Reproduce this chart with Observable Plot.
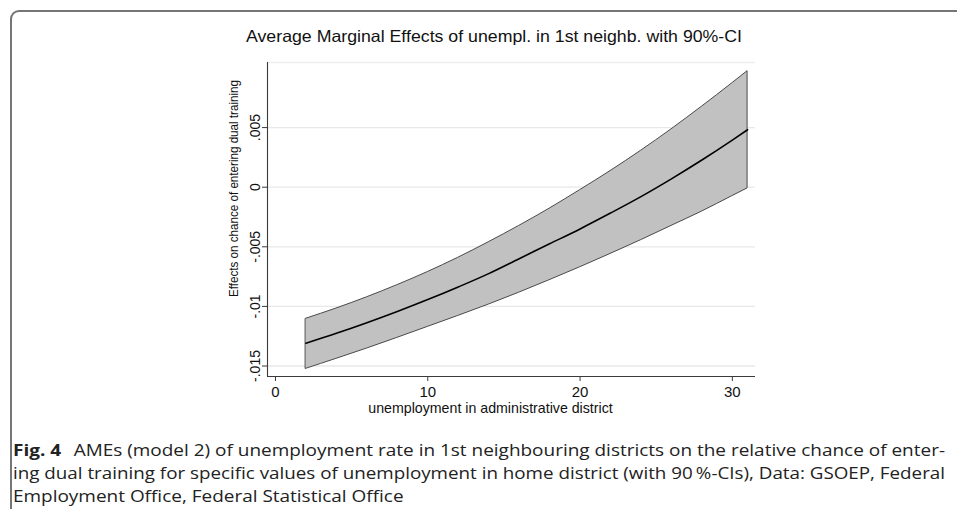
<!DOCTYPE html>
<html><head><meta charset="utf-8">
<script src="https://cdn.jsdelivr.net/npm/d3@7"></script>
<script src="https://cdn.jsdelivr.net/npm/@observablehq/plot@0.6"></script>
<style>
body{margin:0;background:#fff;}
#fig{position:relative;width:957px;height:509px;overflow:hidden;font-family:"Liberation Sans",Arial,sans-serif;background:#fff;}
#chart{position:absolute;left:0;top:0;}
#frame{position:absolute;left:10px;top:10px;width:980px;height:540px;border-top:2px solid #767676;border-left:2px solid #767676;border-top-left-radius:9px;box-sizing:border-box;z-index:5;pointer-events:none;}
#title{position:absolute;top:0;left:0;}
#cap{position:absolute;left:0;top:430px;}
</style>
</head><body>
<div id="fig">
  <div id="chart"></div>
  <svg id="title" width="957" height="60"></svg>
  <div id="frame"></div>
  <svg id="cap" width="957" height="79"></svg>
</div>
<script>
const titleText = "Average Marginal Effects of unempl. in 1st neighb. with 90%-CI";
const xTitle = "unemployment in administrative district";
const yTitle = "Effects on chance of entering dual training";
const captionBold = "Fig. 4";
const captionLines = [
  "\u2002\u2009AMEs (model 2) of unemployment rate in 1st neighbouring districts on the relative chance of enter-",
  "ing dual training for specific values of unemployment in home district (with 90\u2009%-CIs), Data: GSOEP, Federal",
  "Employment Office, Federal Statistical Office"
];

const xValues   = [2, 4, 6, 8, 10, 12, 14, 16, 18, 20, 22, 24, 26, 28, 30, 31];
const meanEffect = [-0.01309, -0.01226, -0.01137, -0.01043, -0.00943, -0.00837, -0.00725, -0.00600, -0.00475, -0.00350, -0.00217, -0.00079, 0.00070, 0.00228, 0.00395, 0.00482];
const upperCI   = [-0.01104, -0.01018, -0.00924, -0.00822, -0.00712, -0.00592, -0.00462, -0.00325, -0.00180, -0.00025, 0.00135, 0.00305, 0.00485, 0.00675, 0.00872, 0.00973];
const lowerCI   = [-0.01524, -0.01440, -0.01354, -0.01264, -0.01172, -0.01080, -0.00985, -0.00885, -0.00780, -0.00672, -0.00560, -0.00445, -0.00325, -0.00205, -0.00075, -0.00010];

const xTicks = [0, 10, 20, 30];
const xTickLabels = ["0", "10", "20", "30"];
const yTicks = [-0.015, -0.01, -0.005, 0, 0.005];
const yTickLabels = ["-.015", "-.01", "-.005", "0", ".005"];

const xDomain = [-0.525, 31.52];
const yDomain = [-0.01588, 0.01046];

const rows = xValues.map((x, i) => ({x, m: meanEffect[i], hi: upperCI[i], lo: lowerCI[i]}));
const yLab = new Map(yTicks.map((t, i) => [t, yTickLabels[i]]));
const xLab = new Map(xTicks.map((t, i) => [t, xTickLabels[i]]));

const axisColor = "#3a3a3a";

const chart = Plot.plot({
  width: 957,
  height: 430,
  marginLeft: 267,
  marginRight: 202,
  marginTop: 62,
  marginBottom: 54,
  style: {fontFamily: "'Liberation Sans', Arial, sans-serif", background: "transparent", color: "#111"},
  x: {domain: xDomain},
  y: {domain: yDomain},
  marks: [
    Plot.ruleY(yTicks, {stroke: "#e8e8e8", strokeWidth: 1.3}),
    Plot.ruleY([yDomain[1]], {stroke: "#efefef", strokeWidth: 1.3}),
    Plot.areaY(rows, {x: "x", y1: "lo", y2: "hi", fill: "#c1c1c1", stroke: "#4a4a4a", strokeWidth: 1, curve: "monotone-x"}),
    Plot.line(rows, {x: "x", y: "m", stroke: "#000", strokeWidth: 1.6, curve: "monotone-x"}),
    Plot.axisY({ticks: yTicks, tickFormat: d => yLab.get(d), tickRotate: -90, tickSize: 5, tickPadding: 3, fontSize: 14, label: null, stroke: axisColor}),
    Plot.axisX({ticks: xTicks, tickFormat: d => xLab.get(d), tickSize: 5, tickPadding: 5, fontSize: 15, label: null, stroke: axisColor}),
    Plot.ruleX([xDomain[0]], {stroke: axisColor, strokeWidth: 1.1}),
    Plot.ruleY([yDomain[0]], {stroke: axisColor, strokeWidth: 1.1}),
    Plot.text([xTitle], {frameAnchor: "bottom", textAnchor: "middle", dx: -21, dy: 36, fontSize: 14.2, fill: "#111"}),
    Plot.text([yTitle], {frameAnchor: "left", textAnchor: "middle", rotate: -90, dx: -34, dy: -31, fontSize: 13.5, fill: "#111", className: "ytitle"})
  ]
});
document.getElementById("chart").appendChild(chart);
// condense the rotated y title along its length, as in the reference
d3.select(chart).selectAll("g.ytitle text").attr("textLength", 217).attr("lengthAdjust", "spacingAndGlyphs");

// title
d3.select("#title").append("text")
  .attr("x", 246).attr("y", 42)
  .attr("font-family", "'Liberation Sans', Arial, sans-serif").attr("font-size", 16.5)
  .attr("fill", "#111")
  .attr("textLength", 496).attr("lengthAdjust", "spacingAndGlyphs")
  .text(titleText);

// caption
const cap = d3.select("#cap");
const capFont = "'Open Sans', 'Noto Sans', sans-serif";
const lineY = [26, 49, 72];
const texts = captionLines.map((txt, i) => {
  const t = cap.append("text")
    .attr("x", 13).attr("y", lineY[i])
    .attr("font-family", capFont).attr("font-size", 16.5)
    .attr("fill", "#222");
  if (i === 0) t.append("tspan").attr("font-weight", "bold").text(captionBold);
  t.append("tspan").text(txt);
  return t;
});
const natural = texts.map(t => t.node().getComputedTextLength());
const fullW = 932;
const k = fullW / natural[0];
texts[0].attr("textLength", fullW).attr("lengthAdjust", "spacingAndGlyphs");
texts[1].attr("textLength", fullW).attr("lengthAdjust", "spacingAndGlyphs");
texts[2].attr("textLength", natural[2] * k).attr("lengthAdjust", "spacingAndGlyphs");
</script>
</body></html>
